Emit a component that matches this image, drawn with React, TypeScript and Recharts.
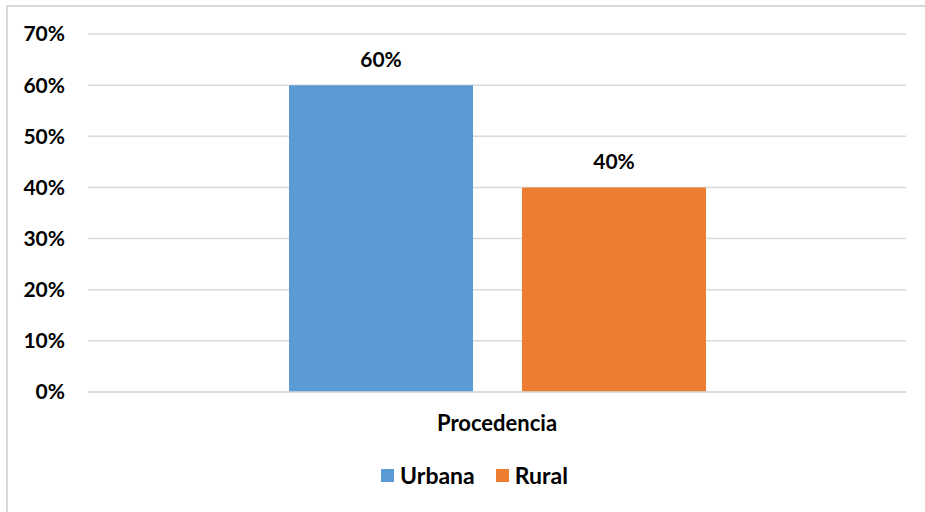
import { BarChart, Bar, XAxis, YAxis, CartesianGrid, Legend, LabelList } from 'recharts';

// Procedencia de los encuestados (proporción)
const categories = ['Procedencia'];
const urbana = [0.6];
const rural = [0.4];
const yTicks = [0, 0.1, 0.2, 0.3, 0.4, 0.5, 0.6, 0.7];
const seriesNames = ['Urbana', 'Rural'];
const seriesColors = ['#5B9BD5', '#ED7D31'];

const data = categories.map((name, i) => ({ name, Urbana: urbana[i], Rural: rural[i] }));

const FONT = 'Lato, "Open Sans", sans-serif';
const GRID = '#d9d9d9';
const pct = (v: number) => `${Math.round(v * 100)}%`;

const tickStyle = { fontFamily: FONT, fontWeight: 700, fontSize: 21, fill: '#000' };
const catStyle = { ...tickStyle, fontSize: 22 };

// leyenda en el orden de las series (sin ordenar alfabéticamente)
const renderLegend = () => (
  <div
    style={{
      display: 'flex',
      justifyContent: 'center',
      gap: 21,
      paddingLeft: 15,
      fontFamily: FONT,
      fontWeight: 700,
      fontSize: 23,
      color: '#000',
    }}
  >
    {seriesNames.map((s, i) => (
      <span key={s} style={{ display: 'inline-flex', alignItems: 'center', gap: 6 }}>
        <span style={{ width: 13, height: 13, background: seriesColors[i], display: 'inline-block' }} />
        {s}
      </span>
    ))}
  </div>
);

export default function App() {
  return (
    <div style={{ position: 'absolute', left: 0, top: 0, width: 925, height: 512, overflow: 'hidden', background: '#fff' }}>
      <div
        style={{
          position: 'absolute',
          left: 6,
          top: 5,
          width: 940,
          height: 530,
          border: `2px solid ${GRID}`,
          boxSizing: 'border-box',
        }}
      />
      <div style={{ position: 'absolute', left: 0, top: 0 }}>
        <BarChart
          width={925}
          height={512}
          data={data}
          margin={{ top: 34, right: 19, bottom: 23, left: 28 }}
          barSize={184}
          barGap={49}
          style={{ fontFamily: FONT }}
        >
          <CartesianGrid vertical={false} stroke={GRID} strokeWidth={1.5} />
          <XAxis
            dataKey="name"
            axisLine={{ stroke: GRID, strokeWidth: 1.5 }}
            tickLine={false}
            tickMargin={17}
            height={69}
            tick={catStyle}
          />
          <YAxis
            width={60}
            domain={[0, 0.7]}
            ticks={yTicks}
            tickFormatter={pct}
            axisLine={false}
            tickLine={false}
            tickSize={0}
            tickMargin={23}
            tick={tickStyle}
          />
          <Legend verticalAlign="bottom" align="center" content={renderLegend} />
          <Bar dataKey="Urbana" fill={seriesColors[0]} isAnimationActive={false}>
            <LabelList dataKey="Urbana" position="top" offset={18} formatter={pct} style={tickStyle} />
          </Bar>
          <Bar dataKey="Rural" fill={seriesColors[1]} isAnimationActive={false}>
            <LabelList dataKey="Rural" position="top" offset={18} formatter={pct} style={tickStyle} />
          </Bar>
        </BarChart>
      </div>
    </div>
  );
}
